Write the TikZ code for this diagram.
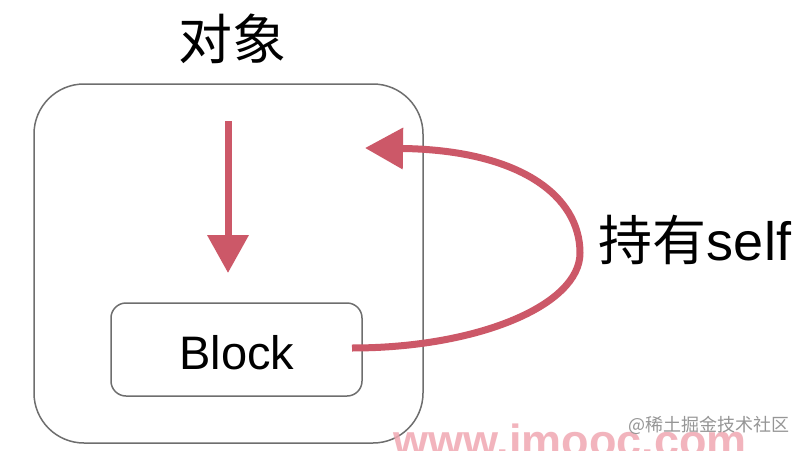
\documentclass[tikz,border=0pt]{standalone}
\usepackage{fontspec}
\setmainfont{Liberation Sans}
\newfontfamily\cjk{Noto Sans CJK SC}
\usetikzlibrary{arrows.meta}
\definecolor{arrowred}{RGB}{204,88,104}
\definecolor{boxgray}{RGB}{110,110,110}
\definecolor{wmpink}{RGB}{240,168,178}
\definecolor{wmgray}{RGB}{150,150,150}
\tikzset{
  framebox/.style={draw=boxgray, line width=1.5pt, rounded corners=#1, inner sep=0pt},
  redarrow/.style={draw=arrowred, line width=7pt, -{Triangle[length=38pt,width=40pt]}},
  bigtext/.style={inner sep=0pt, text=black}
}
\begin{document}
\begin{tikzpicture}[x=1pt,y=-1pt]
\useasboundingbox[fill=white] (0,0) rectangle (806,450);
% title
\node[bigtext, font=\cjk\fontsize{54}{60}\selectfont] (title) at (232,39) {对象};
% outer object box
\node[framebox=50pt, minimum width=389pt, minimum height=359pt] (obj) at (228.5,263.5) {};
% block box
\node[framebox=15pt, minimum width=251pt, minimum height=93pt] (blk) at (236.5,349.5) {};
\node[bigtext, font=\fontsize{47}{52}\selectfont] (blktxt) at (237,353) {Block};
% down arrow
\coordinate (dstart) at (228,121);
\coordinate (dend) at (228,273);
\draw[redarrow] (dstart) -- (dend);
% self-holding curve
\coordinate (cstart) at (352,348);
\coordinate (cright) at (580,253);
\coordinate (ctip) at (365,148);
\draw[redarrow] (cstart) .. controls (478,348) and (580,305) .. (cright)
  .. controls (580,196) and (520,150) .. (ctip);
% label
\node[bigtext] (hold) at (695,240) {\fontsize{54}{60}\selectfont\cjk 持有\rmfamily self};
% watermarks
\node[anchor=base west, inner sep=0pt, text=wmpink, opacity=0.85, font=\bfseries\fontsize{45}{50}\selectfont] (wm) at (393,456) {www.imooc.com};
\node[anchor=east, inner sep=0pt, text=wmgray, font=\cjk\fontsize{18}{20}\selectfont] (jj) at (790,425) {@稀土掘金技术社区};
\end{tikzpicture}
\end{document}
